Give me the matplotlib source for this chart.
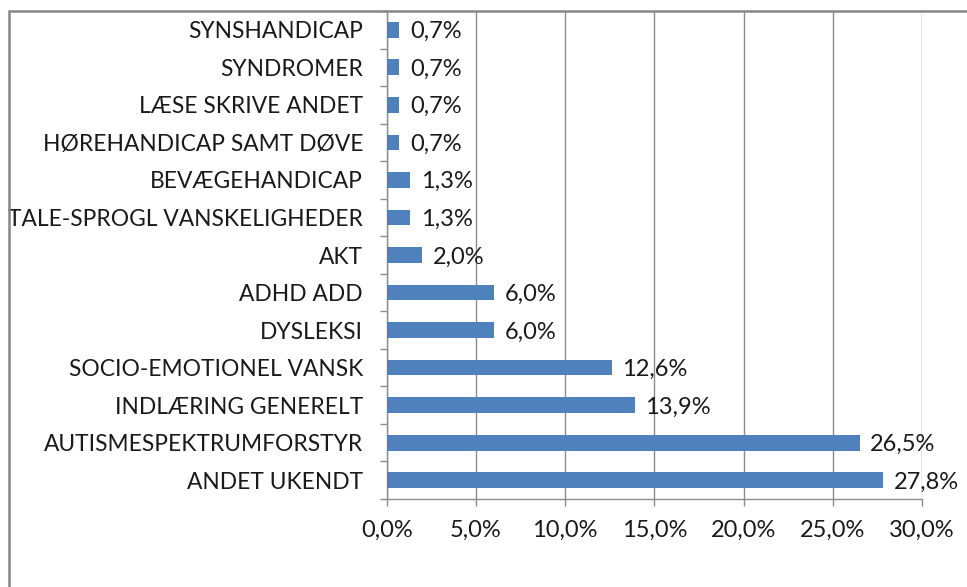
import matplotlib
matplotlib.use("Agg")
import matplotlib.pyplot as plt
from matplotlib.patches import Rectangle
from matplotlib.ticker import FuncFormatter

# categories listed top to bottom as in the chart
categories = ["SYNSHANDICAP", "SYNDROMER", "LÆSE SKRIVE ANDET",
              "HØREHANDICAP SAMT DØVE", "BEVÆGEHANDICAP",
              "TALE-SPROGL VANSKELIGHEDER", "AKT", "ADHD ADD", "DYSLEKSI",
              "SOCIO-EMOTIONEL VANSK", "INDLÆRING GENERELT",
              "AUTISMESPEKTRUMFORSTYR", "ANDET UKENDT"]
shares = [0.7, 0.7, 0.7, 0.7, 1.3, 1.3, 2.0, 6.0, 6.0, 12.6, 13.9, 26.5, 27.8]
xticks = [0, 5, 10, 15, 20, 25, 30]

BAR, GRID, INK = "#4F81BD", "#8C8C8C", "#1a1a1a"
FS_CAT, FS_NUM = 16.4, 17
plt.rcParams["font.family"] = ["Lato", "DejaVu Sans"]


def pct(v):
    return f"{v:.1f}%".replace(".", ",")


W, H = 967, 587
fig = plt.figure(figsize=(W / 100, H / 100), dpi=100)
ax = fig.add_axes([386.7 / W, 1 - 499 / H, (922 - 386.7) / W, (499 - 11) / H])

ypos = list(range(len(categories)))[::-1]
ax.barh(ypos, shares, height=0.42, color=BAR, zorder=3)
for y, v in zip(ypos, shares):
    ax.text(v + 0.6, y - 0.05, pct(v), va="center", ha="left",
            fontsize=FS_NUM, color=INK)

ax.set_xlim(0, 30)
ax.set_ylim(-0.5, len(categories) - 0.5)
ax.set_xticks(xticks)
ax.xaxis.set_major_formatter(FuncFormatter(lambda v, _: pct(v)))
ax.set_yticks(ypos)
ax.set_yticklabels(categories)
ax.set_yticks([i - 0.5 for i in range(len(categories) + 1)], minor=True)
ax.tick_params(axis="y", which="major", length=0, pad=17, labelsize=FS_CAT,
               labelcolor=INK)
ax.tick_params(axis="y", which="minor", length=5, width=1, color=GRID)
ax.tick_params(axis="x", length=5, width=1, color=GRID, pad=10,
               labelsize=FS_NUM, labelcolor=INK)
ax.grid(axis="x", color=GRID, lw=1, zorder=0)
for s in ("top", "right"):
    ax.spines[s].set_visible(False)
for s in ("left", "bottom"):
    ax.spines[s].set_color(GRID)
    ax.spines[s].set_linewidth(1)

# chart frame, cropped on the right and bottom like the source image
fig.add_artist(Rectangle((9 / W, -0.1), 1.2, 1.1 - 11 / H,
                         transform=fig.transFigure, fill=False,
                         edgecolor="#868686", lw=1.8, clip_on=False))

fig.savefig("out.png", dpi=100)
